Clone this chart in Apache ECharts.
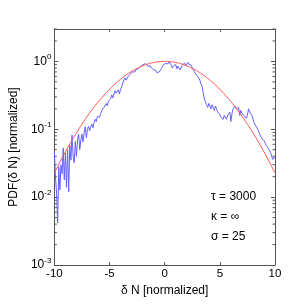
<!DOCTYPE html>
<html>
<head>
<meta charset="utf-8">
<script src="https://cdn.jsdelivr.net/npm/echarts@6/dist/echarts.min.js"></script>
<style>html,body{margin:0;padding:0;background:#fff;}#c{width:305px;height:305px;}</style>
</head>
<body>
<div id="c"></div>
<script>
var pdfX = [-10.0,-9.9,-9.8,-9.7,-9.6,-9.5,-9.4,-9.3,-9.2,-9.1,
-9.0,-8.9,-8.8,-8.7,-8.6,-8.5,-8.4,-8.3,-8.2,-8.1,
-8.0,-7.9,-7.8,-7.7,-7.6,-7.5,-7.4,-7.3,-7.2,-7.1,
-7.0,-6.9,-6.8,-6.7,-6.6,-6.5,-6.4,-6.3,-6.2,-6.1,
-6.0,-5.9,-5.8,-5.7,-5.6,-5.5,-5.4,-5.3,-5.2,-5.1,
-5.0,-4.9,-4.8,-4.7,-4.6,-4.5,-4.4,-4.3,-4.2,-4.1,
-4.0,-3.9,-3.8,-3.7,-3.6,-3.5,-3.4,-3.3,-3.2,-3.1,
-3.0,-2.9,-2.8,-2.7,-2.6,-2.5,-2.4,-2.3,-2.2,-2.1,
-2.0,-1.9,-1.8,-1.7,-1.6,-1.5,-1.4,-1.3,-1.2,-1.1,
-1.0,-0.9,-0.8,-0.7,-0.6,-0.5,-0.4,-0.3,-0.2,-0.1,
0.0,0.1,0.2,0.3,0.4,0.5,0.6,0.7,0.8,0.9,
1.0,1.1,1.2,1.3,1.4,1.5,1.6,1.7,1.8,1.9,
2.0,2.1,2.2,2.3,2.4,2.5,2.6,2.7,2.8,2.9,
3.0,3.1,3.2,3.3,3.4,3.5,3.6,3.7,3.8,3.9,
4.0,4.1,4.2,4.3,4.4,4.5,4.6,4.7,4.8,4.9,
5.0,5.1,5.2,5.3,5.4,5.5,5.6,5.7,5.8,5.9,
6.0,6.1,6.2,6.3,6.4,6.5,6.6,6.7,6.8,6.9,
7.0,7.1,7.2,7.3,7.4,7.5,7.6,7.7,7.8,7.9,
8.0,8.1,8.2,8.3,8.4,8.5,8.6,8.7,8.8,8.9,
9.0,9.1,9.2,9.3,9.4,9.5,9.6,9.7,9.8,9.9,
10.0];
var pdfY = [0.047,0.02,0.0115,0.0042,0.028,0.0128,0.03,0.022,0.053,0.018,
0.045,0.014,0.05,0.012,0.058,0.035,0.082,0.04,0.032,0.066,
0.04,0.07,0.085,0.05,0.07,0.085,0.065,0.09,0.109,0.075,
0.1,0.11,0.095,0.11,0.12,0.105,0.125,0.14,0.13,0.155,
0.16,0.15,0.17,0.19,0.18,0.21,0.2,0.24,0.22,0.26,
0.25,0.28,0.32,0.29,0.3,0.37,0.34,0.36,0.38,0.33,
0.39,0.42,0.48,0.5,0.57,0.53,0.56,0.6,0.62,0.66,
0.64,0.7,0.74,0.7,0.76,0.8,0.78,0.8,0.84,0.86,
0.88,0.89,0.92,0.88,0.9,0.84,0.82,0.86,0.8,0.76,
0.75,0.72,0.74,0.68,0.64,0.7,0.74,0.78,0.84,0.9,
0.95,0.93,0.97,0.92,1.0,0.96,0.88,0.8,0.86,0.82,
0.9,0.78,0.85,0.82,0.75,0.8,0.88,0.9,0.95,0.86,
0.92,0.97,0.9,0.86,0.88,0.8,0.75,0.7,0.69,0.62,
0.6,0.57,0.52,0.46,0.42,0.34,0.28,0.25,0.23,0.21,
0.24,0.22,0.2,0.23,0.21,0.19,0.22,0.2,0.18,0.19,
0.165,0.15,0.145,0.14,0.16,0.15,0.14,0.16,0.15,0.18,
0.13,0.17,0.2,0.19,0.22,0.2,0.19,0.21,0.16,0.19,
0.17,0.18,0.16,0.17,0.145,0.16,0.2,0.18,0.175,0.16,
0.15,0.125,0.13,0.11,0.105,0.095,0.085,0.08,0.074,0.076,
0.068,0.063,0.058,0.06,0.052,0.05,0.045,0.04,0.036,0.038,
0.04];
var fitX = [-10,-9.5,-9,-8.5,-8,-7.5,-7,-6.5,-6,-5.5,-5,-4.5,-4,-3.5,-3,-2.5,-2,-1.5,-1,-0.5,
0,0.5,1,1.5,2,2.5,3,3.5,4,4.5,5,5.5,6,6.5,7,7.5,8,8.5,9,9.5,10];
var fitY = [0.0226,0.0327,0.0465,0.0648,0.0886,0.1187,0.1563,0.2018,0.2557,0.3180,0.3879,0.4644,0.5455,0.6288,0.7111,0.7892,0.8594,0.9183,0.9628,0.9906,
1.0,0.9906,0.9628,0.9183,0.8594,0.7892,0.7111,0.6288,0.5455,0.4644,0.3879,0.3180,0.2557,0.2018,0.1563,0.1187,0.0886,0.0648,0.0465,0.0327,0.0226];
var xTicks = [-10, -5, 0, 5, 10];
var minorTicks = [0.002,0.003,0.004,0.005,0.006,0.007,0.008,0.009,
0.02,0.03,0.04,0.05,0.06,0.07,0.08,0.09,
0.2,0.3,0.4,0.5,0.6,0.7,0.8,0.9,2,3];
var notes = ['\u03c4 = 3000', '\u03ba = \u221e', '\u03c3 = 25'];

var FONT = '"Liberation Sans", Arial, Helvetica, sans-serif';
var chart = echarts.init(document.getElementById('c'), null, {renderer: 'canvas'});

function pairs(xs, ys) { var out = []; for (var i = 0; i < xs.length; i++) out.push([xs[i], ys[i]]); return out; }

var axisColor = '#555';
var option = {
  animation: false,
  backgroundColor: '#fff',
  grid: {left: 40, right: 30, top: 29, bottom: 40, containLabel: false},
  xAxis: [{
    type: 'value', min: xTicks[0], max: xTicks[xTicks.length - 1], interval: 5, position: 'bottom',
    name: '\u03b4 N [normalized]', nameLocation: 'middle', nameGap: 16,
    nameTextStyle: {fontFamily: FONT, fontSize: 12, color: '#000'},
    axisLine: {show: true, onZero: false, lineStyle: {color: axisColor, width: 1}},
    axisTick: {show: true, inside: true, length: 3, lineStyle: {color: axisColor}},
    axisLabel: {fontFamily: FONT, fontSize: 11.5, color: '#000', margin: 3},
    splitLine: {show: false}
  }, {
    type: 'value', min: xTicks[0], max: xTicks[xTicks.length - 1], interval: 5, position: 'top',
    axisLine: {show: true, onZero: false, lineStyle: {color: axisColor, width: 1}},
    axisTick: {show: true, inside: true, length: 3, lineStyle: {color: axisColor}},
    axisLabel: {show: false}, splitLine: {show: false}
  }],
  yAxis: [{
    type: 'log', logBase: 10, min: 0.001, max: 3, position: 'left',
    name: 'PDF(\u03b4 N) [normalized]', nameLocation: 'middle', nameGap: 25, nameRotate: 90,
    nameTextStyle: {fontFamily: FONT, fontSize: 12, color: '#000'},
    axisLine: {show: true, onZero: false, lineStyle: {color: axisColor, width: 1}},
    axisTick: {show: true, inside: true, length: 4, lineStyle: {color: axisColor}},
    axisLabel: {
      showMaxLabel: false, margin: 3,
      formatter: function (v) { var e = Math.round(Math.log(v) / Math.LN10); return '{b|10}{s|' + e + '}'; },
      rich: {
        b: {fontFamily: FONT, fontSize: 12, color: '#000', lineHeight: 12, verticalAlign: 'middle'},
        s: {fontFamily: FONT, fontSize: 8, color: '#000', lineHeight: 8, padding: [0, 0, 9, 0], verticalAlign: 'middle'}
      }
    },
    splitLine: {show: false}
  }, {
    type: 'log', logBase: 10, min: 0.001, max: 3, position: 'right',
    axisLine: {show: true, onZero: false, lineStyle: {color: axisColor, width: 1}},
    axisTick: {show: true, inside: true, length: 4, lineStyle: {color: axisColor}},
    axisLabel: {show: false}, splitLine: {show: false}
  }],
  series: [{
    type: 'line', data: pairs(pdfX, pdfY), showSymbol: false, symbol: 'none',
    lineStyle: {color: '#6262ff', width: 1}, z: 3, silent: true
  }, {
    type: 'line', data: pairs(fitX, fitY), showSymbol: false, symbol: 'none', smooth: true,
    lineStyle: {color: '#ff5555', width: 1}, z: 4, silent: true
  }, {
    type: 'custom', silent: true, clip: false, z: 5,
    data: minorTicks.map(function (v) { return [0, v]; }),
    renderItem: function (params, api) {
      var v = api.value(1);
      var p = api.coord([-10, v]);
      var q = api.coord([10, v]);
      var st = {stroke: axisColor, lineWidth: 1};
      return {type: 'group', children: [
        {type: 'line', shape: {x1: p[0], y1: p[1], x2: p[0] + 2.5, y2: p[1]}, style: st},
        {type: 'line', shape: {x1: q[0] - 2.5, y1: q[1], x2: q[0], y2: q[1]}, style: st}
      ]};
    }
  }],
  graphic: notes.map(function (t, i) {
    return {type: 'text', left: 211, top: 191 + i * 20,
      style: {text: t, font: '12px ' + FONT, fill: '#000'}};
  })
};
chart.setOption(option);
</script>
</body>
</html>
